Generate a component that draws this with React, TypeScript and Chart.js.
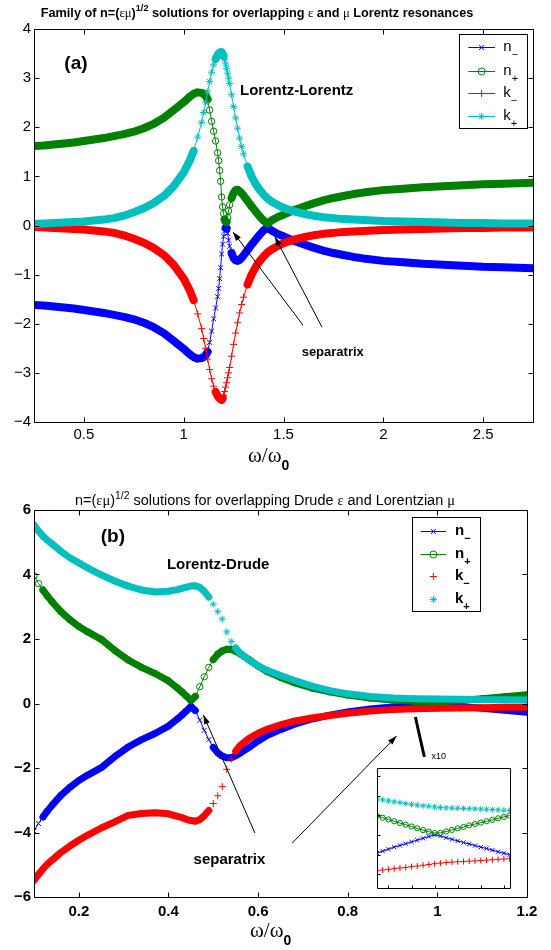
import React, { useEffect, useRef } from 'react';
import { Chart, registerables } from 'chart.js';

Chart.register(...registerables);

const SANS = '"Liberation Sans", Arial, Helvetica, sans-serif';
const SERIF = '"Liberation Serif", "Times New Roman", serif';
const BLUE = '#0000ff';
const GREEN = '#008000';
const RED = '#ff0000';
const CYAN = '#00bfbf';

// ---------------- Panel (a): Lorentz-Lorentz ----------------
const omegaA = [
  0.25, 0.30, 0.35, 0.40, 0.45, 0.50, 0.55, 0.60, 0.65, 0.70, 0.75, 0.80, 0.85, 0.90, 0.95, 1.00,
  1.03, 1.05, 1.07, 1.09,
  1.10, 1.11, 1.12, 1.13, 1.14, 1.15, 1.16, 1.17,
  1.175, 1.18, 1.185, 1.19, 1.195, 1.20, 1.205, 1.21, 1.215, 1.22, 1.225, 1.23,
  1.24, 1.25, 1.26, 1.27, 1.28, 1.29, 1.30,
  1.32, 1.34, 1.36, 1.38, 1.40, 1.42, 1.44,
  1.47, 1.50,
  1.55, 1.60, 1.65, 1.70, 1.75, 1.80, 1.85, 1.90,
  2.00, 2.10, 2.20, 2.30, 2.40, 2.50, 2.60,
  2.75,
];
const nPlusA = [
  1.62, 1.63, 1.65, 1.67, 1.69, 1.72, 1.75, 1.78, 1.82, 1.86, 1.91, 1.98, 2.07, 2.19, 2.35, 2.51,
  2.62, 2.68, 2.71, 2.70,
  2.68, 2.64, 2.57, 2.35, 2.12, 1.92, 1.72, 1.48,
  1.32, 1.12, 0.90, 0.58, 0.38, 0.24, 0.12, 0.08, 0.07, 0.16, 0.30, 0.42,
  0.56, 0.66, 0.72, 0.73, 0.70, 0.66, 0.61,
  0.50, 0.39, 0.29, 0.19, 0.10, 0.04, 0.10,
  0.17, 0.22,
  0.31, 0.38, 0.45, 0.51, 0.56, 0.60, 0.64, 0.67,
  0.72, 0.75, 0.78, 0.80, 0.82, 0.84, 0.85,
  0.87,
];
const nMinusA = [
  -1.62, -1.63, -1.65, -1.67, -1.69, -1.72, -1.75, -1.78, -1.82, -1.86, -1.91, -1.98, -2.07, -2.19, -2.35, -2.51,
  -2.62, -2.68, -2.71, -2.70,
  -2.68, -2.64, -2.57, -2.38, -2.15, -1.90, -1.68, -1.45,
  -1.28, -1.08, -0.86, -0.58, -0.38, -0.22, -0.11, -0.05, -0.06, -0.16, -0.30, -0.42,
  -0.56, -0.66, -0.71, -0.72, -0.70, -0.66, -0.61,
  -0.50, -0.39, -0.29, -0.19, -0.10, -0.04, -0.10,
  -0.17, -0.22,
  -0.31, -0.38, -0.45, -0.51, -0.56, -0.60, -0.64, -0.67,
  -0.72, -0.75, -0.78, -0.80, -0.82, -0.84, -0.85,
  -0.87,
];
const kPlusA = [
  0.03, 0.04, 0.05, 0.06, 0.07, 0.08, 0.10, 0.12, 0.15, 0.20, 0.27, 0.35, 0.46, 0.60, 0.80, 1.08,
  1.32, 1.52, 1.80, 2.10,
  2.30, 2.50, 2.72, 2.93, 3.12, 3.27, 3.39, 3.47,
  3.50, 3.52, 3.53, 3.53, 3.50, 3.45, 3.38, 3.29, 3.20, 3.10, 3.00, 2.89,
  2.66, 2.42, 2.19, 1.98, 1.78, 1.61, 1.46,
  1.20, 1.00, 0.85, 0.73, 0.63, 0.55, 0.49,
  0.42, 0.36,
  0.29, 0.24, 0.20, 0.17, 0.15, 0.13, 0.12, 0.11,
  0.09, 0.08, 0.07, 0.06, 0.05, 0.05, 0.04,
  0.04,
];
const kMinusA = [
  -0.03, -0.04, -0.05, -0.06, -0.07, -0.08, -0.10, -0.12, -0.15, -0.20, -0.27, -0.35, -0.46, -0.60, -0.80, -1.08,
  -1.32, -1.52, -1.80, -2.10,
  -2.30, -2.50, -2.72, -2.93, -3.12, -3.27, -3.39, -3.47,
  -3.50, -3.52, -3.54, -3.55, -3.52, -3.46, -3.38, -3.29, -3.20, -3.10, -3.00, -2.89,
  -2.66, -2.42, -2.19, -1.98, -1.78, -1.61, -1.46,
  -1.20, -1.00, -0.85, -0.73, -0.63, -0.55, -0.49,
  -0.42, -0.36,
  -0.29, -0.24, -0.20, -0.17, -0.15, -0.13, -0.12, -0.11,
  -0.09, -0.08, -0.07, -0.06, -0.05, -0.05, -0.04,
  -0.04,
];
const xTicksA = [0.5, 1, 1.5, 2, 2.5];
const xTickLabelsA = ['0.5', '1', '1.5', '2', '2.5'];
const yTicksA = [-4, -3, -2, -1, 0, 1, 2, 3, 4];
const yTickLabelsA = ['\u22124', '\u22123', '\u22122', '\u22121', '0', '1', '2', '3', '4'];

// ---------------- Panel (b): Lorentz-Drude ----------------
const omegaB = [
  0.10, 0.11, 0.12, 0.13, 0.14, 0.16, 0.18, 0.20, 0.22,
  0.25, 0.28, 0.31, 0.34, 0.37, 0.40,
  0.42, 0.43, 0.44, 0.45, 0.46, 0.47, 0.48, 0.49, 0.50, 0.51, 0.52, 0.53, 0.54, 0.55, 0.56,
  0.58, 0.60, 0.62, 0.65, 0.68,
  0.72, 0.76, 0.80,
  0.85, 0.90, 0.95, 1.00, 1.05, 1.10, 1.15, 1.20,
];
const nPlusB = [
  3.96, 3.72, 3.52, 3.33, 3.16, 2.85, 2.60, 2.39, 2.22,
  1.99, 1.65, 1.35, 1.12, 0.93, 0.70,
  0.48, 0.36, 0.23, 0.09, 0.22, 0.52, 0.83, 1.12, 1.36, 1.53, 1.63, 1.68, 1.68, 1.62, 1.54,
  1.36, 1.16, 0.99, 0.81, 0.65,
  0.48, 0.36, 0.26,
  0.17, 0.11, 0.07, 0.05, 0.09, 0.15, 0.21, 0.27,
];
const nMinusB = [
  -3.96, -3.72, -3.52, -3.33, -3.16, -2.85, -2.60, -2.39, -2.22,
  -1.99, -1.65, -1.35, -1.12, -0.93, -0.70,
  -0.48, -0.36, -0.23, -0.09, -0.22, -0.52, -0.83, -1.12, -1.36, -1.53, -1.63, -1.68, -1.68, -1.62, -1.54,
  -1.36, -1.16, -0.99, -0.81, -0.65,
  -0.48, -0.36, -0.26,
  -0.17, -0.11, -0.07, -0.05, -0.09, -0.15, -0.21, -0.27,
];
const kPlusB = [
  5.53, 5.35, 5.19, 5.06, 4.95, 4.72, 4.52, 4.36, 4.20,
  3.99, 3.80, 3.64, 3.52, 3.46, 3.48,
  3.53, 3.57, 3.61, 3.64, 3.65, 3.60, 3.48, 3.30, 3.08, 2.85, 2.62, 2.22, 1.92, 1.72, 1.56,
  1.34, 1.17, 1.03, 0.87, 0.72,
  0.54, 0.40, 0.30,
  0.22, 0.17, 0.15, 0.14, 0.13, 0.12, 0.12, 0.11,
];
const kMinusB = [
  -5.49, -5.30, -5.13, -4.98, -4.86, -4.62, -4.42, -4.24, -4.08,
  -3.86, -3.67, -3.47, -3.41, -3.39, -3.42,
  -3.50, -3.54, -3.59, -3.63, -3.65, -3.60, -3.48, -3.32, -3.10, -2.86, -2.58, -2.04, -1.72, -1.48, -1.30,
  -1.08, -0.92, -0.80, -0.66, -0.55,
  -0.45, -0.37, -0.30,
  -0.23, -0.19, -0.16, -0.15, -0.14, -0.13, -0.12, -0.12,
];
const xTicksB = [0.2, 0.4, 0.6, 0.8, 1, 1.2];
const xTickLabelsB = ['0.2', '0.4', '0.6', '0.8', '1', '1.2'];
const yTicksB = [-6, -4, -2, 0, 2, 4, 6];
const yTickLabelsB = ['\u22126', '\u22124', '\u22122', '0', '2', '4', '6'];

// ---------------- Inset (x10) ----------------
const omegaInset = [
  0.930, 0.935, 0.940, 0.945, 0.950, 0.955, 0.960, 0.965, 0.970, 0.975, 0.980, 0.985,
  0.990, 0.995, 1.000, 1.005, 1.010, 1.015, 1.020, 1.025, 1.030, 1.035, 1.040, 1.045,
];
const kPlusInset = [
  0.184, 0.179, 0.174, 0.169, 0.165, 0.160, 0.156, 0.152, 0.149, 0.146, 0.143, 0.140,
  0.138, 0.137, 0.136, 0.135, 0.134, 0.133, 0.132, 0.131, 0.129, 0.128, 0.126, 0.125,
];
const nPlusInset = [
  0.097, 0.088, 0.079, 0.070, 0.061, 0.052, 0.043, 0.034, 0.025, 0.017, 0.010, 0.011,
  0.018, 0.026, 0.034, 0.041, 0.049, 0.056, 0.063, 0.070, 0.077, 0.085, 0.092, 0.099,
];
const nMinusInset = [
  -0.092, -0.082, -0.072, -0.062, -0.053, -0.044, -0.035, -0.026, -0.017, -0.008, 0.000, -0.005,
  -0.014, -0.022, -0.030, -0.038, -0.046, -0.054, -0.062, -0.069, -0.077, -0.085, -0.093, -0.100,
];
const kMinusInset = [
  -0.182, -0.178, -0.175, -0.171, -0.168, -0.165, -0.161, -0.158, -0.154, -0.150, -0.146, -0.143,
  -0.140, -0.138, -0.136, -0.135, -0.133, -0.132, -0.130, -0.128, -0.126, -0.124, -0.122, -0.121,
];
const xTicksInset = [0.94, 0.96, 0.98, 1.0, 1.02, 1.04];
const yTicksInset = [-0.2, -0.1, 0, 0.1, 0.2, 0.3];

// ---------------- helpers ----------------
type Run = { t: string; font: string; dy?: number };

function runsWidth(ctx: CanvasRenderingContext2D, runs: Run[]) {
  let w = 0;
  for (const r of runs) {
    ctx.font = r.font;
    w += ctx.measureText(r.t).width;
  }
  return w;
}

function drawRuns(ctx: CanvasRenderingContext2D, runs: Run[], x: number, y: number, align: 'left' | 'center') {
  const w = runsWidth(ctx, runs);
  let cx = align === 'center' ? x - w / 2 : x;
  ctx.textAlign = 'left';
  ctx.textBaseline = 'alphabetic';
  ctx.fillStyle = '#000';
  for (const r of runs) {
    ctx.font = r.font;
    ctx.fillText(r.t, cx, y + (r.dy || 0));
    cx += ctx.measureText(r.t).width;
  }
}

type Part = [string, 'txt' | 'sym' | 'sup'];
function titleRuns(size: number, bold: boolean, parts: Part[]): Run[] {
  const b = bold ? 'bold ' : '';
  return parts.map(([t, k]) => {
    if (k === 'sym') return { t, font: `${size}px ${SERIF}` };
    if (k === 'sup') return { t, font: `${b}${(size * 0.72).toFixed(2)}px ${SANS}`, dy: -size * 0.42 };
    return { t, font: `${b}${size.toFixed(2)}px ${SANS}` };
  });
}

function drawFittedTitle(ctx: CanvasRenderingContext2D, parts: Part[], bold: boolean, cx: number, base: number, targetW: number) {
  const w = runsWidth(ctx, titleRuns(12, bold, parts));
  const size = (12 * targetW) / w;
  drawRuns(ctx, titleRuns(size, bold, parts), cx, base, 'center');
}

const TITLE_A: Part[] = [
  ['Family of n=(', 'txt'], ['\u03b5\u03bc', 'sym'], [')', 'txt'], ['1/2', 'sup'],
  [' solutions for overlapping ', 'txt'], ['\u03b5', 'sym'], [' and ', 'txt'], ['\u03bc', 'sym'],
  [' Lorentz resonances', 'txt'],
];
const TITLE_B: Part[] = [
  ['n=(', 'txt'], ['\u03b5\u03bc', 'sym'], [')', 'txt'], ['1/2', 'sup'],
  [' solutions for overlapping Drude ', 'txt'], ['\u03b5', 'sym'], [' and Lorentzian ', 'txt'], ['\u03bc', 'sym'],
];

function drawFrame(chart: any, xt: number[], yt: number[], tl: number, sides = { top: true, right: true }) {
  const { ctx, chartArea } = chart;
  const { left, right, top, bottom } = chartArea;
  const xs = chart.scales.x;
  const ys = chart.scales.y;
  const L = Math.floor(left) + 0.5;
  const R = Math.floor(right) + 0.5;
  const T = Math.floor(top) + 0.5;
  const B = Math.floor(bottom) + 0.5;
  ctx.save();
  ctx.strokeStyle = '#000';
  ctx.lineWidth = 1;
  ctx.beginPath();
  ctx.moveTo(L, T); ctx.lineTo(R, T); ctx.lineTo(R, B); ctx.lineTo(L, B); ctx.closePath();
  for (const v of xt) {
    const p = Math.round(xs.getPixelForValue(v)) + 0.5;
    ctx.moveTo(p, B); ctx.lineTo(p, B - tl);
    if (sides.top) { ctx.moveTo(p, T); ctx.lineTo(p, T + tl); }
  }
  for (const v of yt) {
    const p = Math.round(ys.getPixelForValue(v)) + 0.5;
    ctx.moveTo(L, p); ctx.lineTo(L + tl, p);
    if (sides.right) { ctx.moveTo(R, p); ctx.lineTo(R - tl, p); }
  }
  ctx.stroke();
  ctx.restore();
}

function drawMarker(ctx: CanvasRenderingContext2D, style: string, x: number, y: number, r: number, color: string) {
  ctx.save();
  ctx.strokeStyle = color;
  ctx.lineWidth = 1;
  ctx.beginPath();
  if (style === 'circle') {
    ctx.arc(x, y, r, 0, Math.PI * 2);
  }
  if (style === 'cross' || style === 'star') {
    ctx.moveTo(x - r, y); ctx.lineTo(x + r, y);
    ctx.moveTo(x, y - r); ctx.lineTo(x, y + r);
  }
  if (style === 'crossRot' || style === 'star') {
    const d = r * Math.SQRT1_2;
    ctx.moveTo(x - d, y - d); ctx.lineTo(x + d, y + d);
    ctx.moveTo(x - d, y + d); ctx.lineTo(x + d, y - d);
  }
  ctx.stroke();
  ctx.restore();
}

type LegendItem = { style: string; color: string; letter: string; sub: string; line: boolean };
const LEGEND_A: LegendItem[] = [
  { style: 'crossRot', color: BLUE, letter: 'n', sub: '\u2212', line: true },
  { style: 'circle', color: GREEN, letter: 'n', sub: '+', line: true },
  { style: 'cross', color: RED, letter: 'k', sub: '\u2212', line: true },
  { style: 'star', color: CYAN, letter: 'k', sub: '+', line: true },
];
const LEGEND_B: LegendItem[] = [
  { style: 'crossRot', color: BLUE, letter: 'n', sub: '\u2212', line: true },
  { style: 'circle', color: GREEN, letter: 'n', sub: '+', line: true },
  { style: 'cross', color: RED, letter: 'k', sub: '\u2212', line: false },
  { style: 'star', color: CYAN, letter: 'k', sub: '+', line: false },
];

function drawLegend(ctx: CanvasRenderingContext2D, items: LegendItem[], x: number, y: number, w: number, h: number,
  rows: number[], lx0: number, lx1: number, tx: number, bold: boolean) {
  ctx.save();
  ctx.fillStyle = '#fff';
  ctx.fillRect(x, y, w, h);
  ctx.strokeStyle = '#000';
  ctx.lineWidth = 1;
  ctx.strokeRect(Math.round(x) + 0.5, Math.round(y) + 0.5, Math.round(w), Math.round(h));
  items.forEach((it, i) => {
    const ry = Math.round(y + rows[i]) + 0.5;
    if (it.line) {
      ctx.strokeStyle = it.color;
      ctx.beginPath();
      ctx.moveTo(x + lx0, ry); ctx.lineTo(x + lx1, ry);
      ctx.stroke();
    }
    drawMarker(ctx, it.style, x + (lx0 + lx1) / 2, ry, 3.5, it.color);
    ctx.fillStyle = '#000';
    ctx.textAlign = 'left';
    ctx.textBaseline = 'alphabetic';
    ctx.font = `${bold ? 'bold ' : ''}15px ${SANS}`;
    ctx.fillText(it.letter, x + tx, ry + 3);
    const lw = ctx.measureText(it.letter).width;
    ctx.font = `${bold ? 'bold ' : ''}11px ${SANS}`;
    ctx.fillText(it.sub, x + tx + lw, ry + 10);
  });
  ctx.restore();
}

function drawArrow(ctx: CanvasRenderingContext2D, x0: number, y0: number, x1: number, y1: number) {
  ctx.save();
  ctx.strokeStyle = '#000';
  ctx.fillStyle = '#000';
  ctx.lineWidth = 1;
  ctx.beginPath();
  ctx.moveTo(x0, y0); ctx.lineTo(x1, y1);
  ctx.stroke();
  const a = Math.atan2(y1 - y0, x1 - x0);
  const L = 9, W = 3;
  const c = Math.cos(a), s = Math.sin(a);
  ctx.beginPath();
  ctx.moveTo(x1, y1);
  ctx.lineTo(x1 - L * c + W * s, y1 - L * s - W * c);
  ctx.lineTo(x1 - L * c - W * s, y1 - L * s + W * c);
  ctx.closePath();
  ctx.fill();
  ctx.restore();
}

function drawText(ctx: CanvasRenderingContext2D, t: string, x: number, y: number, font: string, align: CanvasTextAlign) {
  ctx.save();
  ctx.fillStyle = '#000';
  ctx.font = font;
  ctx.textAlign = align;
  ctx.textBaseline = 'middle';
  ctx.fillText(t, x, y);
  ctx.restore();
}

function series(xs: number[], ys: number[], color: string, pointStyle: string, order: number,
  withLine: boolean, band: number, thresh: number, radius: number) {
  const slope = (c: any) => {
    const dx = Math.abs(c.p1.x - c.p0.x);
    const dy = Math.abs(c.p1.y - c.p0.y);
    return dy / Math.max(dx, 1e-6);
  };
  return {
    data: xs.map((x, i) => ({ x, y: ys[i] })),
    order,
    borderColor: color,
    backgroundColor: color,
    borderWidth: 1,
    borderCapStyle: 'round',
    borderJoinStyle: 'round',
    pointStyle,
    pointRadius: radius,
    pointHoverRadius: radius,
    pointBorderWidth: 1,
    pointBorderColor: color,
    pointBackgroundColor: 'rgba(0,0,0,0)',
    fill: false,
    tension: 0,
    segment: {
      borderWidth: (c: any) => (slope(c) < thresh ? band : 1),
      borderColor: (c: any) => (slope(c) < thresh || withLine ? color : 'rgba(0,0,0,0)'),
    },
  };
}

function labelOf(ticks: number[], labels: string[]) {
  return (v: any) => {
    const i = ticks.findIndex((t) => Math.abs(t - Number(v)) < 1e-9);
    return i >= 0 ? labels[i] : '';
  };
}

function axis(min: number, max: number, ticks: number[], labels: string[], bold: boolean, padding: number,
  fit: (s: any) => void) {
  return {
    type: 'linear',
    min,
    max,
    grid: { display: false, drawTicks: false },
    border: { display: false },
    afterBuildTicks: (s: any) => { s.ticks = ticks.map((value) => ({ value })); },
    afterFit: fit,
    ticks: {
      autoSkip: false,
      maxRotation: 0,
      minRotation: 0,
      padding,
      color: '#000',
      font: { family: SANS, size: 15, weight: bold ? 'bold' : 'normal' },
      callback: labelOf(ticks, labels),
    },
  };
}

export default function App() {
  const refA = useRef<HTMLCanvasElement>(null);
  const refB = useRef<HTMLCanvasElement>(null);
  const refI = useRef<HTMLCanvasElement>(null);

  useEffect(() => {
    const pluginA = {
      id: 'panelA',
      afterDraw(chart: any) {
        const ctx = chart.ctx as CanvasRenderingContext2D;
        const xs = chart.scales.x, ys = chart.scales.y;
        const px = (v: number) => xs.getPixelForValue(v);
        const py = (v: number) => ys.getPixelForValue(v);
        const { right, top } = chart.chartArea;
        drawFrame(chart, xTicksA, yTicksA, 5);
        drawFittedTitle(ctx, TITLE_A, true, 257, 16.7, 433);
        drawRuns(ctx, [{ t: '\u03c9/\u03c9', font: `21px ${SERIF}` }, { t: '0', font: `bold 14px ${SANS}`, dy: 8 }], 248, 461.7, 'left');
        drawText(ctx, '(a)', px(0.46), py(3.29), `bold 19px ${SANS}`, 'center');
        drawText(ctx, 'Lorentz-Lorentz', px(1.282), py(2.74), `bold 15px ${SANS}`, 'left');
        drawText(ctx, 'separatrix', px(1.591), py(-2.58), `bold 13px ${SANS}`, 'left');
        drawArrow(ctx, px(1.598), py(-2.03), px(1.247), py(-0.13));
        drawArrow(ctx, px(1.693), py(-2.07), px(1.457), py(-0.23));
        drawLegend(ctx, LEGEND_A, right - 73.7, top + 5, 68.3, 94.3, [13.3, 36.7, 59.3, 81.7], 9, 35.7, 44, false);
      },
    };

    const pluginB = {
      id: 'panelB',
      afterDraw(chart: any) {
        const ctx = chart.ctx as CanvasRenderingContext2D;
        const xs = chart.scales.x, ys = chart.scales.y;
        const px = (v: number) => xs.getPixelForValue(v);
        const py = (v: number) => ys.getPixelForValue(v);
        const { right, top } = chart.chartArea;
        drawFrame(chart, xTicksB, yTicksB, 5);
        drawFittedTitle(ctx, TITLE_B, false, 265, 25, 380);
        drawRuns(ctx, [{ t: '\u03c9/\u03c9', font: `21px ${SERIF}` }, { t: '0', font: `bold 14px ${SANS}`, dy: 8 }], 250, 457, 'left');
        drawText(ctx, '(b)', px(0.276), py(5.16), `bold 19px ${SANS}`, 'center');
        drawText(ctx, 'Lorentz-Drude', px(0.511), py(4.29), `bold 15px ${SANS}`, 'center');
        drawText(ctx, 'separatrix', px(0.456), py(-4.85), `bold 15px ${SANS}`, 'left');
        drawArrow(ctx, px(0.593), py(-4.02), px(0.478), py(-0.36));
        drawArrow(ctx, px(0.676), py(-4.33), px(0.909), py(-1.01));
        ctx.save();
        ctx.strokeStyle = '#000';
        ctx.lineWidth = 3;
        ctx.beginPath();
        ctx.moveTo(px(0.951), py(-0.42));
        ctx.lineTo(px(0.971), py(-1.66));
        ctx.stroke();
        ctx.restore();
        drawText(ctx, 'x10', px(0.987), py(-1.63), `9px ${SANS}`, 'left');
        drawLegend(ctx, LEGEND_B, right - 115.3, top + 7.3, 68.3, 94.4, [13.4, 36.7, 58.7, 82], 9, 34.3, 43.3, true);
      },
    };

    const pluginI = {
      id: 'inset',
      beforeDraw(chart: any) {
        const ctx = chart.ctx as CanvasRenderingContext2D;
        ctx.save();
        ctx.fillStyle = '#fff';
        ctx.fillRect(0, 0, chart.width, chart.height);
        ctx.restore();
      },
      afterDraw(chart: any) {
        drawFrame(chart, xTicksInset, yTicksInset, 3, { top: false, right: false });
      },
    };

    const common = {
      animation: false,
      responsive: false,
      devicePixelRatio: 1,
      events: [],
    };

    const cA = new Chart(refA.current as HTMLCanvasElement, {
      type: 'line',
      data: {
        datasets: [
          series(omegaA, nMinusA, BLUE, 'crossRot', 4, true, 8, 2.5, 3.5),
          series(omegaA, nPlusA, GREEN, 'circle', 3, true, 8, 2.5, 3.2),
          series(omegaA, kMinusA, RED, 'cross', 2, true, 8, 2.5, 3.5),
          series(omegaA, kPlusA, CYAN, 'star', 1, true, 8, 2.5, 3.5),
        ] as any,
      },
      options: {
        ...common,
        layout: { padding: { left: 0, top: 29, right: 18, bottom: 0 } },
        plugins: { legend: { display: false }, tooltip: { enabled: false } },
        scales: {
          x: axis(0.25, 2.75, xTicksA, xTickLabelsA, false, 4, (s: any) => { s.height = 58; }),
          y: axis(-4, 4, yTicksA, yTickLabelsA, false, 3, (s: any) => { s.width = 34; }),
        },
      } as any,
      plugins: [pluginA],
    });

    const cB = new Chart(refB.current as HTMLCanvasElement, {
      type: 'line',
      data: {
        datasets: [
          series(omegaB, nMinusB, BLUE, 'crossRot', 4, true, 7, 1.4, 3.5),
          series(omegaB, nPlusB, GREEN, 'circle', 3, true, 7, 1.4, 3.2),
          series(omegaB, kMinusB, RED, 'cross', 2, false, 7, 1.4, 3.5),
          series(omegaB, kPlusB, CYAN, 'star', 1, false, 7, 1.4, 3.5),
        ] as any,
      },
      options: {
        ...common,
        layout: { padding: { left: 0, top: 30, right: 24, bottom: 0 } },
        plugins: { legend: { display: false }, tooltip: { enabled: false } },
        scales: {
          x: axis(0.1, 1.2, xTicksB, xTickLabelsB, true, 6, (s: any) => { s.height = 53; }),
          y: axis(-6, 6, yTicksB, yTickLabelsB, true, 3, (s: any) => { s.width = 34; }),
        },
      } as any,
      plugins: [pluginB],
    });

    const insetSet = (ys: number[], color: string, style: string, order: number, line: boolean, r: number) => ({
      data: omegaInset.map((x, i) => ({ x, y: ys[i] })),
      order,
      showLine: line,
      borderColor: color,
      borderWidth: 1,
      pointStyle: style,
      pointRadius: r,
      pointHoverRadius: r,
      pointBorderWidth: 1,
      pointBorderColor: color,
      pointBackgroundColor: 'rgba(0,0,0,0)',
      fill: false,
      tension: 0,
    });

    const cI = new Chart(refI.current as HTMLCanvasElement, {
      type: 'line',
      data: {
        datasets: [
          insetSet(nMinusInset, BLUE, 'crossRot', 4, true, 3),
          insetSet(nPlusInset, GREEN, 'circle', 3, true, 2.6),
          insetSet(kMinusInset, RED, 'cross', 2, false, 3),
          insetSet(kPlusInset, CYAN, 'star', 1, false, 3),
        ] as any,
      },
      options: {
        ...common,
        layout: { padding: { left: 0, top: 0, right: 1, bottom: 1 } },
        plugins: { legend: { display: false }, tooltip: { enabled: false } },
        scales: {
          x: { type: 'linear', display: false, min: 0.9301, max: 1.0453 },
          y: { type: 'linear', display: false, min: -0.2697, max: 0.3409 },
        },
      } as any,
      plugins: [pluginI],
    });

    return () => {
      cA.destroy();
      cB.destroy();
      cI.destroy();
    };
  }, []);

  return (
    <div style={{ position: 'absolute', left: 0, top: 0, width: 551, height: 950, background: '#fff', overflow: 'hidden' }}>
      <canvas ref={refA} width={551} height={480} style={{ position: 'absolute', left: 0, top: 0 }} />
      <canvas ref={refB} width={551} height={470} style={{ position: 'absolute', left: 0, top: 480 }} />
      <canvas ref={refI} width={141} height={128} style={{ position: 'absolute', left: 373, top: 764 }} />
    </div>
  );
}
